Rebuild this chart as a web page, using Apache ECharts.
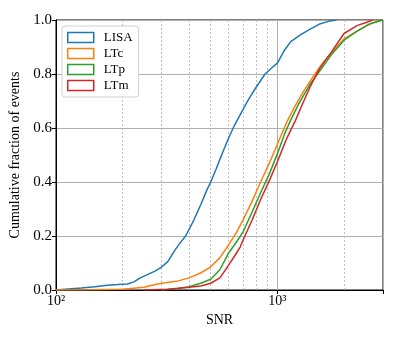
<!DOCTYPE html>
<html>
<head>
<meta charset="utf-8">
<script src="https://cdn.jsdelivr.net/npm/echarts@6/dist/echarts.min.js"></script>
<style>
  html, body { margin: 0; padding: 0; background: #fff; }
  #chart { width: 399px; height: 342px; }
</style>
</head>
<body>
<div id="chart"></div>
<script>
// values (SNR, cumulative fraction)
const lisaSnr = [100, 110, 130, 150, 170, 190, 210, 225, 240, 260, 280, 300, 320, 340, 360, 385, 420, 450, 480, 500, 530, 560, 600, 640, 690, 740, 800, 880, 950, 1000, 1080, 1150, 1270, 1400, 1550, 1700, 1850];
const lisaCdf = [0, 0.003, 0.007, 0.012, 0.018, 0.02, 0.022, 0.03, 0.045, 0.058, 0.07, 0.085, 0.105, 0.14, 0.17, 0.2, 0.26, 0.315, 0.37, 0.40, 0.45, 0.5, 0.56, 0.61, 0.66, 0.705, 0.75, 0.80, 0.825, 0.84, 0.89, 0.92, 0.945, 0.965, 0.985, 0.995, 1.0];

const ltcSnr = [100, 150, 200, 250, 280, 300, 350, 400, 450, 500, 550, 600, 650, 700, 760, 840, 920, 1000, 1100, 1200, 1300, 1450, 1600, 1800, 2000, 2300, 2550, 2800, 3000];
const ltcCdf = [0, 0.001, 0.003, 0.01, 0.02, 0.025, 0.032, 0.045, 0.063, 0.086, 0.12, 0.165, 0.21, 0.26, 0.32, 0.40, 0.47, 0.54, 0.62, 0.68, 0.73, 0.79, 0.84, 0.89, 0.93, 0.96, 0.98, 0.995, 1.0];

const ltpSnr = [300, 350, 400, 450, 500, 550, 600, 650, 700, 770, 840, 920, 1000, 1080, 1150, 1250, 1400, 1550, 1750, 2000, 2300, 2600, 3000];
const ltpCdf = [0, 0.005, 0.012, 0.025, 0.04, 0.075, 0.135, 0.175, 0.215, 0.29, 0.36, 0.43, 0.505, 0.58, 0.63, 0.69, 0.76, 0.81, 0.87, 0.925, 0.96, 0.985, 1.0];

const ltmSnr = [250, 320, 400, 450, 500, 550, 600, 640, 680, 700, 770, 840, 920, 1000, 1100, 1210, 1300, 1420, 1550, 1750, 2000, 2300, 2500, 2700];
const ltmCdf = [0, 0.003, 0.01, 0.015, 0.025, 0.045, 0.09, 0.125, 0.16, 0.185, 0.26, 0.335, 0.405, 0.475, 0.56, 0.63, 0.69, 0.76, 0.82, 0.88, 0.95, 0.98, 0.99, 1.0];

const minorTicks = [200, 300, 400, 500, 600, 700, 800, 900, 2000, 3000];
const yTicks = [0, 0.2, 0.4, 0.6, 0.8, 1.0];

const serif = "Liberation Serif";
const colors = ["#1f77b4", "#ff7f0e", "#2ca02c", "#d62728"];
const names = ["LISA", "LTc", "LTp", "LTm"];
const xs = [lisaSnr, ltcSnr, ltpSnr, ltmSnr];
const ys = [lisaCdf, ltcCdf, ltpCdf, ltmCdf];

const chart = echarts.init(document.getElementById("chart"), null, { renderer: "canvas" });

const series = names.map((name, i) => ({
  name,
  type: "line",
  data: xs[i].map((x, j) => [x, ys[i][j]]),
  showSymbol: false,
  lineStyle: { color: colors[i], width: 1.5 },
  itemStyle: { color: colors[i] },
  z: 3 + i
}));

// dotted minor grid lines of the log axis
series[0].markLine = {
  silent: true,
  symbol: "none",
  label: { show: false },
  lineStyle: { color: "#b0b0b0", type: [2, 2], width: 0.8 },
  data: minorTicks.map(v => ({ xAxis: v })),
  z: 1
};

chart.setOption({
  animation: false,
  color: colors,
  grid: { left: 56, right: 16, top: 20, bottom: 52, show: true, borderColor: "#000", borderWidth: 1 },
  legend: {
    orient: "vertical",
    left: 62,
    top: 26,
    itemWidth: 26,
    itemHeight: 10,
    itemGap: 3,
    padding: [5, 6, 5, 5],
    backgroundColor: "#fff",
    borderColor: "#d0d0d0",
    borderWidth: 1,
    borderRadius: 3,
    textStyle: { fontFamily: serif, fontSize: 13, color: "#000", padding: [0, 0, 0, 5] },
    data: names.map((n, i) => ({
      name: n,
      icon: "rect",
      itemStyle: { color: "rgba(0,0,0,0)", borderColor: colors[i], borderWidth: 1.5 }
    }))
  },
  xAxis: {
    type: "log",
    logBase: 10,
    min: 100,
    max: 3000,
    name: "SNR",
    nameLocation: "middle",
    nameGap: 21,
    nameTextStyle: { fontFamily: serif, fontSize: 14, color: "#000" },
    axisLine: { show: true, lineStyle: { color: "#000" } },
    axisTick: { show: true, inside: false, length: 4, lineStyle: { color: "#000" } },
    axisLabel: {
      fontFamily: serif, fontSize: 14, color: "#000", margin: 4,
      formatter: v => (Math.abs(v - 100) < 1 ? "10²" : Math.abs(v - 1000) < 1 ? "10³" : "")
    },
    splitLine: { show: true, lineStyle: { color: "#b0b0b0", width: 1 } },
    minorTick: { show: false }
  },
  yAxis: {
    type: "value",
    min: 0,
    max: 1,
    interval: 0.2,
    name: "Cumulative fraction of events",
    nameLocation: "middle",
    nameGap: 24,
    nameTextStyle: { fontFamily: serif, fontSize: 14, color: "#000" },
    axisLine: { show: true, lineStyle: { color: "#000" } },
    axisTick: { show: true, length: 4, lineStyle: { color: "#000" } },
    axisLabel: {
      fontFamily: serif, fontSize: 15, color: "#000", margin: 4,
      formatter: v => (yTicks.some(t => Math.abs(t - v) < 1e-9) ? v.toFixed(1) : "")
    },
    splitLine: { show: true, lineStyle: { color: "#b0b0b0", width: 1 } }
  },
  series
});
</script>
</body>
</html>
